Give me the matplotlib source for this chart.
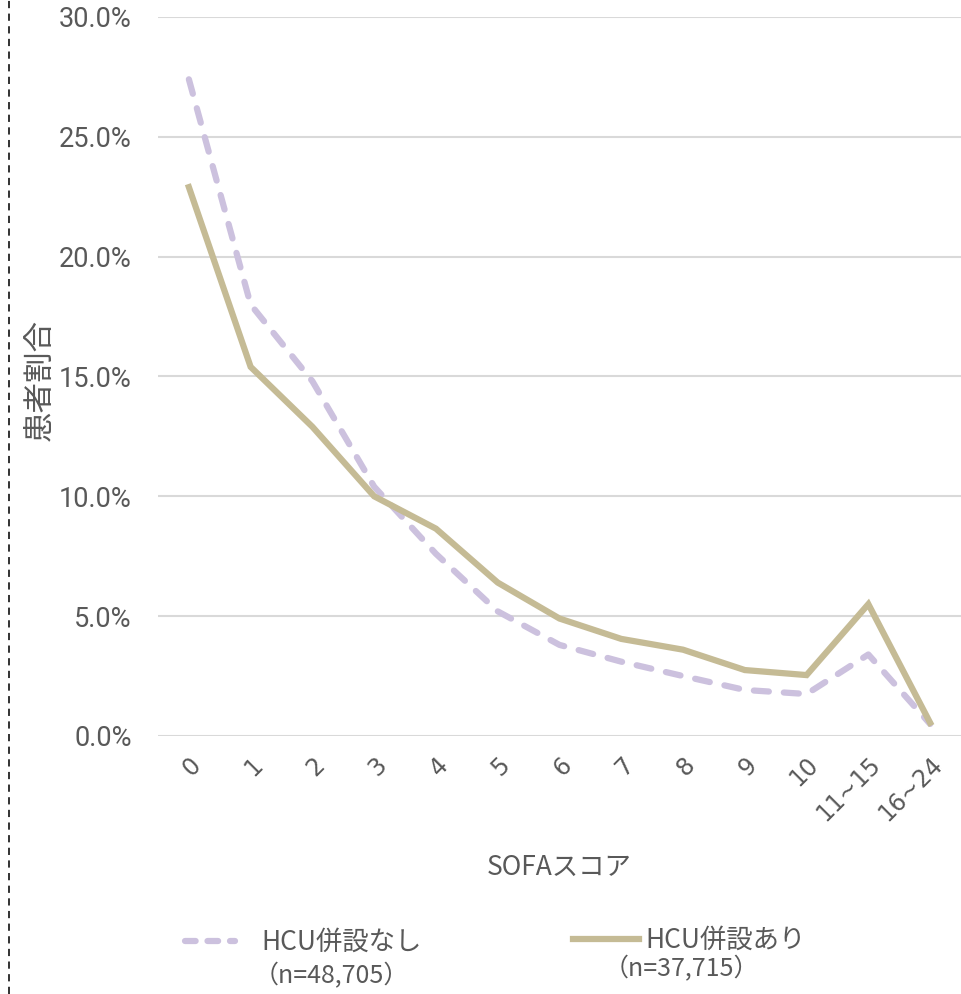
import matplotlib
matplotlib.use('Agg')
import matplotlib.pyplot as plt
from matplotlib.ticker import PercentFormatter
from matplotlib.lines import Line2D

plt.rcParams['font.family'] = ['Noto Sans CJK JP', 'DejaVu Sans']

# データ
categories = ['0', '1', '2', '3', '4', '5', '6', '7', '8', '9', '10', '11~15', '16~24']
hcu_nashi = [27.4, 18.0, 14.8, 10.4, 7.6, 5.2, 3.8, 3.1, 2.5, 1.92, 1.75, 3.4, 0.5]
hcu_ari = [22.9, 15.4, 12.9, 10.0, 8.65, 6.4, 4.9, 4.05, 3.6, 2.75, 2.54, 5.5, 0.55]
labels = ['HCU併設なし', 'HCU併設あり']
n_labels = ['（n=48,705）', '（n=37,715）']

col_nashi = '#CCC1DE'
col_ari = '#C5BB95'
gray = '#595959'

fig = plt.figure(figsize=(9.61, 9.94), dpi=100)
ax = fig.add_axes([0.1644, 0.2596, 0.8356, 0.7233])

x = list(range(len(categories)))
ax.plot(x, hcu_nashi, color=col_nashi, lw=4.5, ls=(0, (2.4, 2.4)), dash_capstyle='round')
ax.plot(x, hcu_ari, color=col_ari, lw=4.5, solid_joinstyle='miter')

ax.set_xlim(-0.5, len(categories) - 0.5)
ax.set_ylim(0, 30)
ax.set_yticks([0, 5, 10, 15, 20, 25, 30])
ax.yaxis.set_major_formatter(PercentFormatter(decimals=1))
ax.set_xticks(x)
ax.set_xticklabels(categories, rotation=45, ha='right', rotation_mode='anchor',
                   fontsize=17, color=gray, family='DejaVu Sans')
for t in ax.get_yticklabels():
    t.set_fontsize(19.5)
    t.set_color(gray)
    t.set_family('Roboto')
ax.tick_params(axis='both', length=0)
ax.tick_params(axis='y', pad=19)
ax.tick_params(axis='x', pad=12)
ax.grid(axis='y', color='#D9D9D9', lw=1.5)
ax.set_axisbelow(True)
for s in ax.spines.values():
    s.set_visible(False)

ax.set_xlabel('SOFAスコア', fontsize=19, color=gray, labelpad=20)
fig.text(0.042, 0.618, '患者割合', rotation=90, fontsize=22, color=gray, ha='center', va='center')

# 凡例（2つに分けて配置）
h1 = Line2D([], [], color=col_nashi, lw=4.5, ls=(0, (1.7, 1.9)), dash_capstyle='round')
h2 = Line2D([], [], color=col_ari, lw=4.5)
leg1 = fig.legend([h1], [labels[0]], loc='center left', bbox_to_anchor=(0.192, 0.052),
                  frameon=False, fontsize=19, handlelength=1.9, handletextpad=1.0, borderpad=0, borderaxespad=0)
leg2 = fig.legend([h2], [labels[1]], loc='center left', bbox_to_anchor=(0.596, 0.054),
                  frameon=False, fontsize=19, handlelength=2.5, handletextpad=0.25, borderpad=0, borderaxespad=0)
for lg in (leg1, leg2):
    for t in lg.get_texts():
        t.set_color(gray)
fig.text(0.264, 0.018, n_labels[0], fontsize=18, color=gray, ha='left', va='center')
fig.text(0.628, 0.025, n_labels[1], fontsize=18, color=gray, ha='left', va='center')

# 左端の破線枠
fig.add_artist(Line2D([0.009, 0.009], [0, 1], color='#222222', lw=1.3, ls=(0, (4, 3)), transform=fig.transFigure))

fig.savefig('out.png', dpi=100)
